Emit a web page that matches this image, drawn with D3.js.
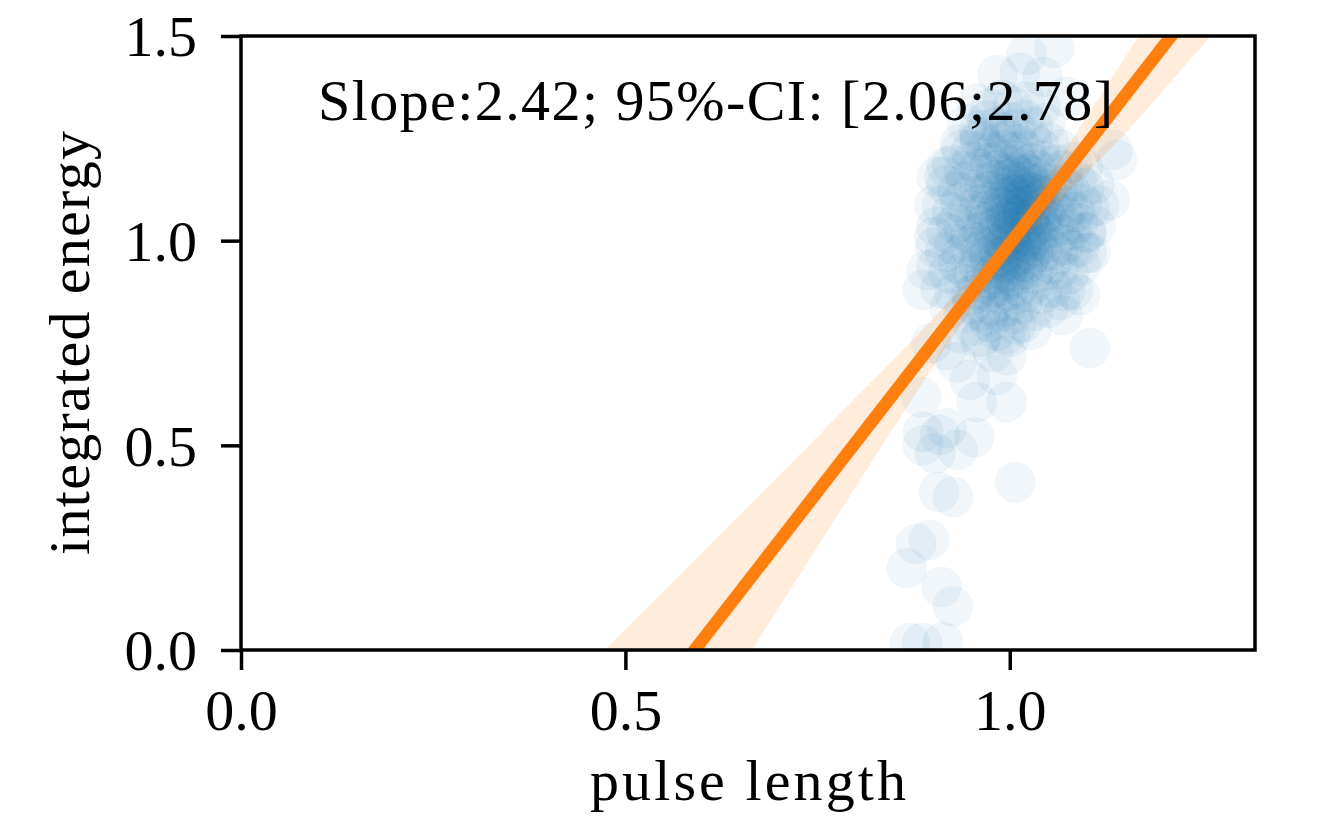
<!DOCTYPE html>
<html><head><meta charset="utf-8">
<script src="https://cdn.jsdelivr.net/npm/d3@7"></script>
<style>
body{margin:0;background:#fff}
svg text{font-family:"Liberation Serif","Times New Roman",serif;fill:#000}
</style>
</head><body>
<svg id="chart" width="1332" height="825"></svg>
<script>
// ---- data ----
const samples = [
// y ~ 0.78
[0.935,0.775],[0.952,0.792],[0.963,0.765],[0.974,0.801],[0.983,0.780],[0.994,0.770],[1.008,0.795],[1.028,0.782],
// y ~ 0.83
[0.922,0.835],[0.940,0.822],[0.951,0.845],[0.962,0.828],[0.971,0.817],[0.978,0.841],[0.986,0.826],[0.995,0.838],[1.004,0.820],[1.016,0.845],[1.031,0.829],[1.050,0.836],
// y ~ 0.88
[0.910,0.884],[0.928,0.872],[0.940,0.893],[0.950,0.866],[0.958,0.880],[0.966,0.896],[0.973,0.874],[0.980,0.887],[0.986,0.869],[0.992,0.891],[0.998,0.878],[1.005,0.866],[1.012,0.889],[1.020,0.875],[1.030,0.893],[1.041,0.870],[1.055,0.885],[1.072,0.877],
// y ~ 0.93
[0.905,0.935],[0.920,0.921],[0.933,0.944],[0.943,0.928],[0.952,0.916],[0.960,0.940],[0.967,0.925],[0.974,0.947],[0.980,0.918],[0.985,0.934],[0.990,0.949],[0.995,0.922],[1.000,0.938],[1.005,0.915],[1.011,0.943],[1.017,0.929],[1.023,0.946],[1.030,0.920],[1.037,0.936],[1.045,0.925],[1.054,0.944],[1.064,0.930],[1.077,0.918],[1.092,0.939],
// y ~ 0.98
[0.903,0.984],[0.916,0.972],[0.928,0.991],[0.938,0.968],[0.947,0.985],[0.955,0.996],[0.962,0.975],[0.968,0.988],[0.974,0.966],[0.979,0.993],[0.984,0.978],[0.989,0.962],[0.993,0.990],[0.998,0.973],[1.002,0.997],[1.006,0.981],[1.011,0.966],[1.015,0.989],[1.020,0.975],[1.025,0.994],[1.030,0.969],[1.036,0.985],[1.042,0.972],[1.048,0.995],[1.055,0.979],[1.063,0.967],[1.071,0.990],[1.080,0.976],[1.091,0.986],[1.105,0.971],
// y ~ 1.03
[0.905,1.034],[0.918,1.020],[0.930,1.041],[0.940,1.026],[0.949,1.015],[0.957,1.038],[0.964,1.022],[0.970,1.045],[0.976,1.030],[0.981,1.014],[0.986,1.039],[0.991,1.025],[0.996,1.046],[1.000,1.018],[1.004,1.033],[1.008,1.049],[1.012,1.021],[1.016,1.037],[1.021,1.012],[1.025,1.044],[1.030,1.028],[1.035,1.017],[1.040,1.040],[1.046,1.024],[1.052,1.047],[1.058,1.031],[1.065,1.016],[1.072,1.039],[1.080,1.026],[1.089,1.043],[1.099,1.021],[1.112,1.035],
// y ~ 1.08
[0.912,1.084],[0.925,1.070],[0.936,1.093],[0.946,1.076],[0.954,1.062],[0.962,1.089],[0.969,1.072],[0.975,1.096],[0.981,1.065],[0.986,1.083],[0.991,1.098],[0.996,1.070],[1.001,1.087],[1.005,1.061],[1.009,1.079],[1.013,1.094],[1.017,1.068],[1.021,1.085],[1.026,1.062],[1.030,1.092],[1.035,1.075],[1.040,1.099],[1.045,1.066],[1.051,1.088],[1.057,1.073],[1.063,1.095],[1.070,1.064],[1.077,1.082],[1.085,1.070],[1.094,1.091],[1.104,1.078],[1.116,1.086],
// y ~ 1.13
[0.918,1.135],[0.932,1.121],[0.943,1.144],[0.952,1.126],[0.960,1.112],[0.967,1.140],[0.974,1.122],[0.980,1.147],[0.986,1.116],[0.991,1.133],[0.996,1.149],[1.001,1.120],[1.006,1.138],[1.010,1.113],[1.015,1.130],[1.020,1.146],[1.025,1.119],[1.030,1.136],[1.036,1.112],[1.042,1.143],[1.048,1.126],[1.055,1.140],[1.062,1.117],[1.070,1.134],[1.078,1.122],[1.087,1.145],[1.097,1.128],[1.110,1.138],
// y ~ 1.18
[0.925,1.185],[0.940,1.170],[0.951,1.193],[0.960,1.176],[0.968,1.162],[0.975,1.189],[0.982,1.172],[0.988,1.197],[0.994,1.166],[1.000,1.183],[1.005,1.168],[1.010,1.195],[1.016,1.177],[1.022,1.163],[1.028,1.190],[1.035,1.174],[1.042,1.196],[1.050,1.168],[1.059,1.186],[1.069,1.172],[1.081,1.191],[1.095,1.178],
// y ~ 1.23
[0.935,1.235],[0.950,1.220],[0.961,1.244],[0.970,1.226],[0.978,1.214],[0.985,1.240],[0.992,1.222],[0.998,1.248],[1.005,1.217],[1.012,1.235],[1.020,1.221],[1.029,1.245],[1.039,1.228],[1.051,1.240],[1.066,1.223],
// y ~ 1.28
[0.945,1.284],[0.960,1.270],[0.971,1.293],[0.981,1.276],[0.990,1.265],[0.999,1.290],[1.008,1.273],[1.018,1.296],[1.030,1.279],[1.046,1.287],
// y ~ 1.33
[0.958,1.335],[0.975,1.322],[0.990,1.344],[1.004,1.328],[1.020,1.340],[1.040,1.326],
// dense centre
[0.990,1.000],[0.998,1.010],[1.006,1.004],[1.014,0.998],[1.022,1.008],[1.030,1.002],[1.038,1.012],
[0.994,1.052],[1.002,1.060],[1.010,1.054],[1.018,1.064],[1.026,1.056],[1.034,1.066],[1.042,1.058],
[0.996,1.104],[1.004,1.110],[1.012,1.102],[1.020,1.112],[1.028,1.106],[1.036,1.116],[1.044,1.108],
[1.000,1.152],[1.008,1.160],[1.016,1.154],[1.024,1.162],[1.032,1.156],
[0.985,0.955],[0.993,0.962],[1.001,0.952],[1.009,0.960],[1.017,0.950],[1.025,0.958],
[0.975,0.905],[0.985,0.912],[0.995,0.902],[1.005,0.910],
[1.003,1.030],[1.015,1.080],[1.027,1.030],[1.019,1.125],[0.992,1.078],
// outer top
[1.058,1.471],[1.022,1.454],[0.984,1.405],[1.013,1.410],[1.043,1.400],[1.074,1.351],[1.134,1.222],[0.918,1.180],[0.937,1.222],[0.961,1.253],[0.905,1.156],
// outer right
[1.139,1.197],[1.130,1.100],[1.100,1.019],[1.100,0.970],[1.082,0.880],[1.065,0.855],[1.104,0.738],[1.069,0.818],[1.091,0.867],
// outer left
[0.902,1.087],[0.915,1.156],[0.902,1.009],[0.892,0.928],[0.887,0.880],
// lower tail
[0.996,0.606],[0.957,0.606],[0.885,0.618],[0.887,0.533],[0.918,0.542],[0.954,0.520],[0.983,0.672],[0.978,0.728],[0.996,0.720],[0.931,0.703],[0.918,0.733],[0.898,0.750],[0.961,0.757],[1.000,0.765],[1.017,0.800],[0.948,0.660],
[1.007,0.410],[0.908,0.386],[0.926,0.374],[0.895,0.269],[0.878,0.259],[0.866,0.200],[0.911,0.154],[0.926,0.107],[0.870,0.017],[0.886,0.017],[0.913,0.020],[0.887,0.500],[0.903,0.480],[0.932,0.489],[0.909,0.525]
];

// fitted regression line (two end points) and its confidence band
const fitX = [0.40, 1.35];
const fitY = [-0.460, 1.839];
const bandX    = [0.40,   0.50,   0.60,   0.70,  0.80,  0.90,  0.95,  0.99,  1.03,  1.08,  1.15,  1.25,  1.35];
const bandLow  = [-0.783, -0.487, -0.191, 0.105, 0.400, 0.691, 0.832, 0.935, 1.025, 1.127, 1.262, 1.475, 1.680];
const bandHigh = [-0.137, 0.051,  0.239,  0.427, 0.617, 0.809, 0.911, 1.001, 1.104, 1.245, 1.448, 1.742, 2.038];

const xTicks = [0.0, 0.5, 1.0];
const yTicks = [0.0, 0.5, 1.0, 1.5];
const xDomain = [0, 1.319];
const yDomain = [0, 1.5];
const annotation = "Slope:2.42; 95%-CI: [2.06;2.78]";
const xLabel = "pulse length";
const yLabel = "integrated energy";

// ---- drawing ----
const svg = d3.select("#chart");
const L = 241, R = 1255, T = 36, B = 650;
const x = d3.scaleLinear().domain(xDomain).range([L, R]);
const y = d3.scaleLinear().domain(yDomain).range([B, T]);

svg.append("defs").append("clipPath").attr("id", "plotclip")
  .append("rect").attr("x", L).attr("y", T).attr("width", R - L).attr("height", B - T);

const plot = svg.append("g").attr("clip-path", "url(#plotclip)");

plot.append("g").selectAll("circle").data(samples).join("circle")
  .attr("cx", d => x(d[0])).attr("cy", d => y(d[1])).attr("r", 20)
  .attr("fill", "#1f77b4").attr("fill-opacity", 0.065)
  .attr("stroke", "#1f77b4").attr("stroke-opacity", 0.03).attr("stroke-width", 1);

const area = d3.area()
  .x((d, i) => x(bandX[i]))
  .y0((d, i) => y(bandLow[i]))
  .y1((d, i) => y(bandHigh[i]))
  .curve(d3.curveMonotoneX);
plot.append("path").datum(bandX).attr("d", area)
  .attr("fill", "#ff7f0e").attr("fill-opacity", 0.15);

plot.append("path").datum(fitX)
  .attr("d", d3.line().x((d, i) => x(fitX[i])).y((d, i) => y(fitY[i])))
  .attr("stroke", "#ff7f0e").attr("stroke-width", 12.5).attr("fill", "none");

// annotation
svg.append("text").attr("x", 318).attr("y", 120)
  .attr("font-size", 58).attr("textLength", 795).attr("lengthAdjust", "spacing")
  .text(annotation);

// axes
const fmt = d3.format(".1f");
const xAxis = svg.append("g").attr("transform", `translate(0,${B})`)
  .call(d3.axisBottom(x).tickValues(xTicks).tickFormat(fmt).tickSize(20).tickPadding(19));
const yAxis = svg.append("g").attr("transform", `translate(${L},0)`)
  .call(d3.axisLeft(y).tickValues(yTicks).tickFormat(fmt).tickSize(20).tickPadding(24));
[xAxis, yAxis].forEach(g => {
  g.select(".domain").remove();
  g.selectAll(".tick line").attr("stroke", "#000").attr("stroke-width", 3.5);
  g.selectAll(".tick text").attr("font-size", 58).attr("font-family", "Liberation Serif, serif").attr("fill", "#000");
});
yAxis.selectAll(".tick text").attr("dy", "0.34em");

svg.append("rect").attr("x", L).attr("y", T).attr("width", R - L).attr("height", B - T)
  .attr("fill", "none").attr("stroke", "#000").attr("stroke-width", 3.5);

svg.append("text").attr("x", (L + R) / 2).attr("y", 800).attr("text-anchor", "middle")
  .attr("font-size", 58).attr("textLength", 316).attr("lengthAdjust", "spacing").text(xLabel);

svg.append("text").attr("transform", `translate(89,343) rotate(-90)`).attr("text-anchor", "middle")
  .attr("font-size", 58).attr("textLength", 424).attr("lengthAdjust", "spacing").text(yLabel);
</script>
</body></html>
